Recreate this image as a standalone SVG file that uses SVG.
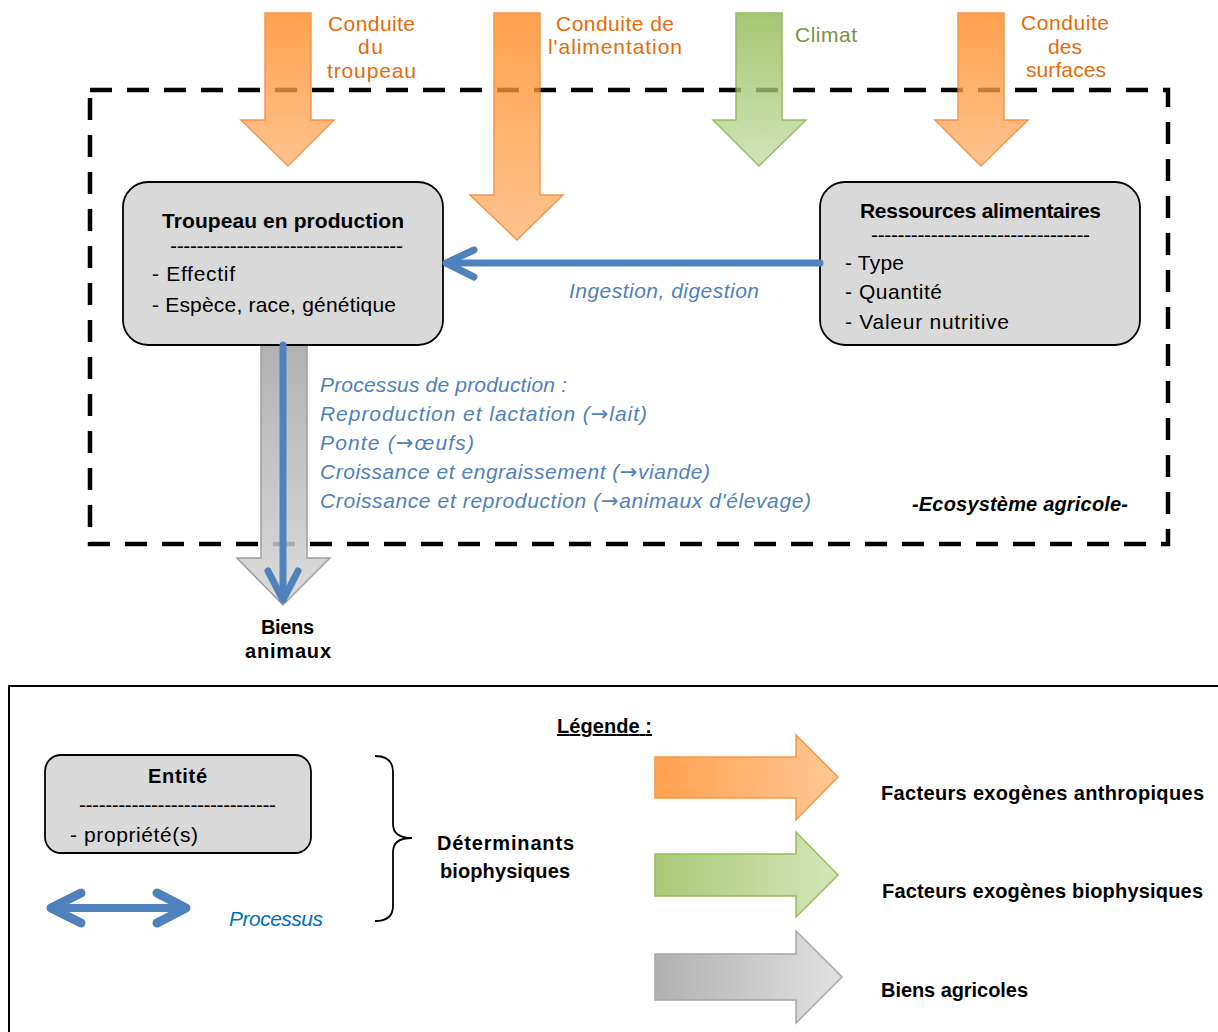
<svg xmlns="http://www.w3.org/2000/svg" width="1218" height="1032" viewBox="0 0 1218 1032">
  <defs>
    <style>
      text { font-family: "Liberation Sans", Arial, sans-serif; }
      .r { font-size: 21px; fill: #000; }
      .b { font-size: 21px; font-weight: bold; fill: #000; }
      .bl { font-size: 20px; font-weight: bold; fill: #000; }
      .or { font-size: 21px; fill: #E46C0A; }
      .gr { font-size: 21px; fill: #77933C; }
      .proc { font-size: 21px; font-style: italic; fill: #4F81BD; }
      .arw { font-family: "DejaVu Sans", sans-serif; font-style: normal; }
      .box { fill: #D9D9D9; stroke: #000; stroke-width: 1.8; }
      .blue { fill: none; stroke: #4F81BD; stroke-width: 7; stroke-linecap: round; stroke-linejoin: round; }
    </style>
    <linearGradient id="gOrV" x1="0" y1="0" x2="0" y2="1">
      <stop offset="0" stop-color="#FF881D"/>
      <stop offset="1" stop-color="#FFB36E"/>
    </linearGradient>
    <linearGradient id="gGrV" x1="0" y1="0" x2="0" y2="1">
      <stop offset="0" stop-color="#91B74E"/>
      <stop offset="1" stop-color="#C5DBA4"/>
    </linearGradient>
    <linearGradient id="gGyV" x1="0" y1="0" x2="0" y2="1">
      <stop offset="0" stop-color="#A4A4A4"/>
      <stop offset="1" stop-color="#D6D6D6"/>
    </linearGradient>
    <linearGradient id="gOrH" x1="0" y1="0" x2="1" y2="0">
      <stop offset="0" stop-color="#FFA14F"/>
      <stop offset="1" stop-color="#FFC894"/>
    </linearGradient>
    <linearGradient id="gGrH" x1="0" y1="0" x2="1" y2="0">
      <stop offset="0" stop-color="#ABC878"/>
      <stop offset="1" stop-color="#D5E5B9"/>
    </linearGradient>
    <linearGradient id="gGyH" x1="0" y1="0" x2="1" y2="0">
      <stop offset="0" stop-color="#B0B0B0"/>
      <stop offset="1" stop-color="#E2E2E2"/>
    </linearGradient>
    <clipPath id="clipRes">
      <rect x="820" y="182" width="320" height="147"/>
    </clipPath>
  </defs>

  <!-- ecosystem boundary -->
  <rect id="ecosysteme" x="90" y="90" width="1078" height="454" fill="none" stroke="#000" stroke-width="4.5" stroke-dasharray="22 15"/>

  <!-- exogenous factor arrows -->
  <g id="arrow-troupeau" opacity="0.78">
    <polygon points="265,13 311,13 311,120 334,120 288,166 241,120 265,120" fill="url(#gOrV)" stroke="#F07A20" stroke-width="1.5"/>
  </g>
  <g id="arrow-alimentation" opacity="0.78">
    <polygon points="494,13 540,13 540,195 563,195 517,240 470,195 494,195" fill="url(#gOrV)" stroke="#F07A20" stroke-width="1.5"/>
  </g>
  <g id="arrow-climat" opacity="0.78">
    <polygon points="736,13 782,13 782,120 806,120 759,166 713,120 736,120" fill="url(#gGrV)" stroke="#7FA83A" stroke-width="1.5"/>
  </g>
  <g id="arrow-surfaces" opacity="0.78">
    <polygon points="958,13 1004,13 1004,120 1028,120 981,166 935,120 958,120" fill="url(#gOrV)" stroke="#F07A20" stroke-width="1.5"/>
  </g>
  <g id="arrow-biens" opacity="0.85">
    <polygon points="261,345 307,345 307,558 330,558 283,605 237,558 261,558" fill="url(#gGyV)" stroke="#8D8D8D" stroke-width="1.5"/>
  </g>

  <!-- labels of exogenous factors -->
  <g id="label-troupeau">
    <text class="or" x="328" y="31" textLength="87">Conduite</text>
    <text class="or" x="358" y="54" textLength="25">du</text>
    <text class="or" x="327" y="78" textLength="89">troupeau</text>
  </g>
  <g id="label-alimentation">
    <text class="or" x="556" y="31" textLength="118">Conduite de</text>
    <text class="or" x="548" y="54" textLength="134">l'alimentation</text>
  </g>
  <g id="label-climat">
    <text class="gr" x="795" y="42" textLength="62">Climat</text>
  </g>
  <g id="label-surfaces">
    <text class="or" x="1021" y="30" textLength="88">Conduite</text>
    <text class="or" x="1048" y="54" textLength="34">des</text>
    <text class="or" x="1026" y="77" textLength="80">surfaces</text>
  </g>

  <!-- nodes -->
  <g id="troupeau">
    <rect class="box" x="123" y="182" width="320" height="163" rx="25"/>
    <text class="b" x="162" y="228" textLength="242">Troupeau en production</text>
    <text class="r" x="170" y="253" textLength="233">-----------------------------------</text>
    <text class="r" x="152" y="281" textLength="83">- Effectif</text>
    <text class="r" x="152" y="312" textLength="244">- Espèce, race, génétique</text>
  </g>
  <g id="ressources">
    <rect class="box" x="820" y="182" width="320" height="163" rx="25"/>
    <text class="b" x="860" y="218" textLength="241">Ressources alimentaires</text>
    <text class="r" x="871" y="242" textLength="219">---------------------------------</text>
    <text class="r" x="845" y="270" textLength="59">- Type</text>
    <text class="r" x="845" y="299" textLength="97">- Quantité</text>
    <g clip-path="url(#clipRes)">
      <text class="r" x="845" y="329" textLength="164">- Valeur nutritive</text>
    </g>
  </g>

  <!-- connectors (processes) -->
  <g id="connectors">
    <line class="blue" x1="820" y1="263" x2="448" y2="263" stroke-linecap="butt"/>
    <polyline class="blue" points="474,250 446,263 474,277"/>
    <line class="blue" x1="283" y1="345" x2="283" y2="598" stroke-linecap="butt"/>
    <polyline class="blue" points="268,571 283,600 298,571"/>
  </g>

  <g id="label-ingestion">
    <text class="proc" x="569" y="298" textLength="190">Ingestion, digestion</text>
  </g>
  <g id="label-processus-production">
    <text class="proc" x="320" y="392" textLength="247">Processus de production :</text>
    <text class="proc" x="320" y="421" textLength="327">Reproduction et lactation (<tspan class="arw">→</tspan>lait)</text>
    <text class="proc" x="320" y="450" textLength="154">Ponte (<tspan class="arw">→</tspan>œufs)</text>
    <text class="proc" x="320" y="479" textLength="390">Croissance et engraissement (<tspan class="arw">→</tspan>viande)</text>
    <text class="proc" x="320" y="508" textLength="491">Croissance et reproduction (<tspan class="arw">→</tspan>animaux d'élevage)</text>
  </g>
  <text class="bl" x="912" y="511" font-style="italic" textLength="216">-Ecosystème agricole-</text>

  <g id="biens-animaux">
    <text class="bl" x="261" y="634" textLength="53">Biens</text>
    <text class="bl" x="245" y="658" textLength="86">animaux</text>
  </g>

  <!-- legend -->
  <g id="legende">
    <rect x="9" y="686" width="1230" height="360" fill="none" stroke="#000" stroke-width="2"/>
    <text class="bl" x="557" y="733" textLength="95" text-decoration="underline">Légende :</text>

    <g id="legend-entite">
      <rect class="box" x="45" y="755" width="266" height="98" rx="16"/>
      <text class="bl" x="148" y="783" textLength="59">Entité</text>
      <text class="r" x="79" y="812" textLength="197">------------------------------</text>
      <text class="r" x="70" y="842" textLength="128">- propriété(s)</text>
    </g>

    <g id="legend-processus">
      <line x1="54" y1="908" x2="182" y2="908" stroke="#4F81BD" stroke-width="8"/>
      <polyline points="81,893 51,908 81,923" fill="none" stroke="#4F81BD" stroke-width="9" stroke-linecap="round" stroke-linejoin="round"/>
      <polyline points="157,893 186,908 157,923" fill="none" stroke="#4F81BD" stroke-width="9" stroke-linecap="round" stroke-linejoin="round"/>
      <text x="229" y="926" font-size="21" font-style="italic" fill="#0070C0" textLength="94">Processus</text>
    </g>

    <g id="legend-brace">
      <path d="M375,756 Q393,756 393,772 L393,824 Q393,838 412,838 Q393,838 393,852 L393,906 Q393,921 375,921" fill="none" stroke="#000" stroke-width="1.8"/>
      <text class="bl" x="437" y="850" textLength="137">Déterminants</text>
      <text class="bl" x="440" y="878" textLength="130">biophysiques</text>
    </g>

    <g id="legend-anthropiques">
      <polygon points="655,757 796,757 796,735 838,777 796,820 796,798 655,798" fill="url(#gOrH)" stroke="#F79646" stroke-width="1.5"/>
      <text class="bl" x="881" y="800" textLength="323">Facteurs exogènes anthropiques</text>
    </g>
    <g id="legend-biophysiques">
      <polygon points="655,854 796,854 796,832 838,875 796,917 796,896 655,896" fill="url(#gGrH)" stroke="#9BBB59" stroke-width="1.5"/>
      <text class="bl" x="882" y="898" textLength="321">Facteurs exogènes biophysiques</text>
    </g>
    <g id="legend-biens">
      <polygon points="655,954 796,954 796,931 842,977 796,1023 796,1000 655,1000" fill="url(#gGyH)" stroke="#A6A6A6" stroke-width="1.5"/>
      <text class="bl" x="881" y="997" textLength="147">Biens agricoles</text>
    </g>
  </g>
</svg>
